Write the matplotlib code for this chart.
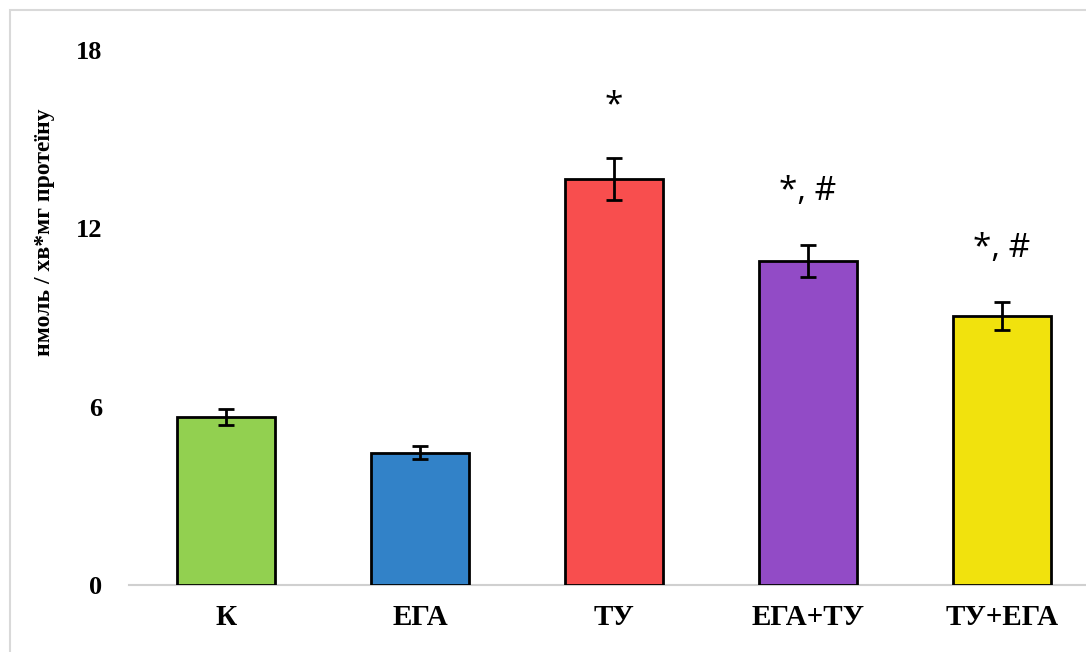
import matplotlib
matplotlib.use("Agg")
import matplotlib.pyplot as plt
from matplotlib.patches import Rectangle

# --- data ---
groups = ["К", "ЕГА", "ТУ", "ЕГА+ТУ", "ТУ+ЕГА"]
means = [5.65, 4.45, 13.65, 10.9, 9.05]
errors = [0.28, 0.22, 0.7, 0.55, 0.47]
marks = ["", "", "*", "*, #", "*, #"]
bar_colors = ["#92D050", "#3282C8", "#F84E4E", "#924BC6", "#F1E20D"]
y_ticks = [0, 6, 12, 18]

serif = ["Liberation Serif", "DejaVu Serif"]

fig = plt.figure(figsize=(10.86, 6.52), dpi=100)
ax = fig.add_axes([129 / 1086, 67 / 652, 970 / 1086, 535 / 652])

x = range(len(groups))
ax.bar(x, means, width=0.505, color=bar_colors, edgecolor="black",
       linewidth=2, zorder=3)
ax.errorbar(x, means, yerr=errors, fmt="none", ecolor="black",
            elinewidth=2, capsize=6, capthick=2, zorder=4)

# significance marks above the error bars
for i, (m, e, s) in enumerate(zip(means, errors, marks)):
    if s:
        ax.text(i, m + e + 1.5, s, ha="center", va="baseline",
                fontsize=24, family=["Open Sans", "DejaVu Sans"])

ax.set_xlim(-0.5, 4.5)
ax.set_ylim(0, 18)
ax.set_yticks(y_ticks)
ax.set_yticklabels([str(t) for t in y_ticks], family=serif,
                   fontsize=19, fontweight="bold")
ax.set_xticks(list(x))
ax.set_xticklabels(groups, family=serif, fontsize=21, fontweight="bold")
ax.tick_params(axis="y", length=0, pad=19)
ax.tick_params(axis="x", length=0, pad=14)

for side in ("top", "right", "left"):
    ax.spines[side].set_visible(False)
ax.spines["bottom"].set_color("#D0D0D0")
ax.spines["bottom"].set_linewidth(1.5)

fig.text(45 / 1086, 1 - 232 / 652, "нмоль / хв*мг протеїну", rotation=90,
         ha="center", va="center", family=serif, fontsize=17,
         fontweight="bold")

# light frame around the chart area
fig.patches.append(Rectangle((10 / 1086, -0.05), 1.1, 1 - 10 / 652 + 0.05,
                             transform=fig.transFigure, fill=False,
                             edgecolor="#D9D9D9", linewidth=1.5))

fig.savefig("out.png", dpi=100)
